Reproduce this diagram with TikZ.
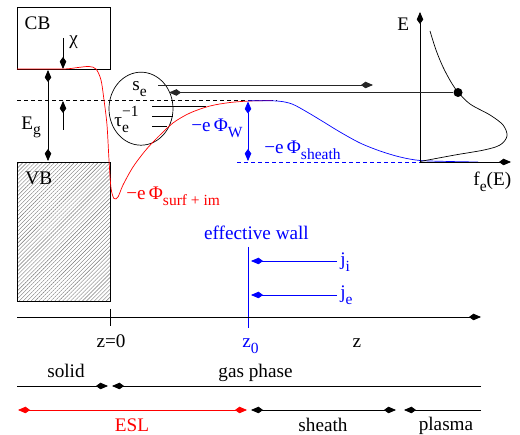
\documentclass[tikz,border=0pt]{standalone}
\usepackage{fontspec}
\setmainfont{Liberation Serif}
\usetikzlibrary{arrows.meta,patterns.meta,shapes.geometric}
\newcommand\sz{\fontsize{19.2}{21}\selectfont}
\newcommand\ssz{\fontsize{15.5}{16}\selectfont}
\newcommand\lsb[1]{\raisebox{-0.6ex}{\ssz #1}}
\newcommand\lsp[1]{\raisebox{1.2ex}{\ssz #1}}
\begin{document}
\begin{tikzpicture}[x=1pt,y=-1pt,font=\sz,inner sep=0pt,line width=0.8pt,
  hd/.tip={Kite[length=12pt,width=6.5pt,inset=4.5pt]},
  ar/.style={-hd},
  dar/.style={hd-hd},
  lbl/.style={anchor=base west},
  lblc/.style={anchor=base},
  dsh/.style={dash pattern=on 4pt off 3pt},
  thin/.style={line width=0.7pt}]
\useasboundingbox (0,0) rectangle (520,435);

% ---- band boxes
\node[draw,line width=0.9pt,minimum width=93pt,minimum height=62pt,anchor=north west] (cb) at (17,7) {};
\node[draw,line width=0.9pt,minimum width=93pt,minimum height=139pt,anchor=north west,
  pattern={Lines[angle=45,distance=2.8pt,line width=0.4pt]},pattern color=black!55] (vb) at (17,162) {};
\node[lblc] (cbl) at (37.5,29.5) {CB};
\node[lbl] (vbl) at (25,185) {VB};

% ---- dashed vacuum level
\coordinate (d1) at (17,100);
\coordinate (d2) at (277,100);
\draw[dsh] (d1) -- (d2);

% ---- chi
\coordinate (chi1) at (63,38);
\coordinate (chi2) at (63,69);
\draw[ar] (chi1) -- (chi2);
\node[lbl] (chil) at (69,45) {χ};

% ---- Eg
\coordinate (eg1) at (48,70);
\coordinate (eg2) at (48,161);
\draw[dar] (eg1) -- (eg2);
\node[lbl] (egl) at (21,129.5) {E\lsb{g}};
\coordinate (up1) at (63,130);
\coordinate (up2) at (63,101);
\draw[ar] (up1) -- (up2);

% ---- circle
\node[draw,thin,ellipse,minimum width=64pt,minimum height=73pt] (circ) at (141,108.7) {};
\node[lbl] (sel) at (132,91) {s\lsb{e}};
\node[lbl] (taul) at (114,127) {τ\rlap{\lsp{−1}}\lsb{e}};
\coordinate (l1a) at (152,106); \coordinate (l1b) at (206,106);
\coordinate (l2a) at (152,116.5); \coordinate (l2b) at (173,116.5);
\coordinate (l3a) at (152,126.5); \coordinate (l3b) at (167,126.5);
\draw[thin] (l1a) -- (l1b) (l2a) -- (l2b) (l3a) -- (l3b);

% ---- red potential
\draw[red,thin] plot[smooth,tension=0.5] coordinates {(17,69) (63,69) (78,67.5) (89,66.5) (96,69) (101,80) (104,100) (107,125) (109,160) (111,188) (114,198.5) (118,197) (123,185) (133,167) (145,151) (156,139) (173,123) (190,113) (210,106) (230,102.5) (250,101) (272,100.5)};
\node[lbl,text=red] (surfl) at (126,200) {−e\,Φ\lsb{surf + im}};

% ---- blue potential
\draw[blue,thin] plot[smooth,tension=0.5] coordinates {(248,100.8) (277,101) (292,104) (307,112) (322,121) (340,132) (360,143) (380,151) (400,157) (420,160.5) (450,161.5) (478,162)};
\coordinate (bd1) at (237,162);
\coordinate (bd2) at (420,162);
\draw[blue,dsh] (bd1) -- (bd2);
\coordinate (w1) at (248,101.5);
\coordinate (w2) at (248,161);
\draw[blue,dar] (w1) -- (w2);
\node[lbl,text=blue] (wl) at (191,132) {−e\,Φ\lsb{W}};
\node[lbl,text=blue] (shl) at (264,154) {−e\,Φ\lsb{sheath}};

% ---- distribution
\coordinate (o) at (420,162);
\coordinate (ey) at (420,12);
\coordinate (fx) at (511,162);
\draw[ar] (o) -- (ey);
\draw[ar] (o) -- (fx);
\node[lbl] (el) at (397,31) {E};
\node[lbl] (fl) at (473,186) {f\lsb{e}(E)};
\draw[thin] plot[smooth,tension=0.55] coordinates {(430,31) (436,50) (443,67) (451,82) (458,92) (470,104) (490,115) (503,125) (507,136) (500,145) (484,150) (455,155) (420,161.5)};
\node[fill,circle,minimum size=9pt] (dot) at (458,92.5) {};

% ---- emission / absorption lines
\coordinate (a1) at (158,85);
\coordinate (a2) at (373,85);
\draw[ar,black!85] (a1) -- (a2);
\coordinate (b2) at (169,92.5);
\draw[ar,black!85] (dot) -- (b2);

% ---- lower part
\node[lblc,text=blue] (ewl) at (256.5,240) {effective wall};
\coordinate (wa) at (248,247);
\coordinate (wb) at (248,328);
\draw[blue] (wa) -- (wb);
\coordinate (ji1) at (337,261); \coordinate (ji2) at (251,261);
\coordinate (je1) at (337,295); \coordinate (je2) at (251,295);
\draw[blue,ar] (ji1) -- (ji2);
\draw[blue,ar] (je1) -- (je2);
\node[lbl,text=blue] (jil) at (340,266) {j\lsb{i}};
\node[lbl,text=blue] (jel) at (340,299) {j\lsb{e}};

\coordinate (z1) at (17,317);
\coordinate (z2) at (481,317);
\draw[ar] (z1) -- (z2);
\coordinate (t1) at (110,309);
\coordinate (t2) at (110,326);
\draw (t1) -- (t2);
\node[lblc] (z0l) at (111,348) {z=0};
\node[lbl,text=blue] (zzl) at (242,348) {z\lsb{0}};
\node[lblc] (zl) at (357,348) {z};

\node[lblc] (solidl) at (66,378) {solid};
\node[lblc] (gasl) at (255.5,378) {gas phase};
\coordinate (r1a) at (17,386); \coordinate (r1b) at (108,386);
\coordinate (r1c) at (481,386); \coordinate (r1d) at (112,386);
\draw[ar] (r1a) -- (r1b);
\draw[ar] (r1c) -- (r1d);

\coordinate (r2a) at (18,410); \coordinate (r2b) at (247,410);
\coordinate (r2c) at (251,410); \coordinate (r2d) at (396,410);
\coordinate (r2e) at (481,410); \coordinate (r2f) at (404,410);
\draw[red,dar] (r2a) -- (r2b);
\draw[dar] (r2c) -- (r2d);
\draw[ar] (r2e) -- (r2f);
\node[lblc,text=red] (esll) at (132,432) {ESL};
\node[lblc] (shtl) at (323,432) {sheath};
\node[lblc] (plal) at (446,431) {plasma};
\end{tikzpicture}
\end{document}
